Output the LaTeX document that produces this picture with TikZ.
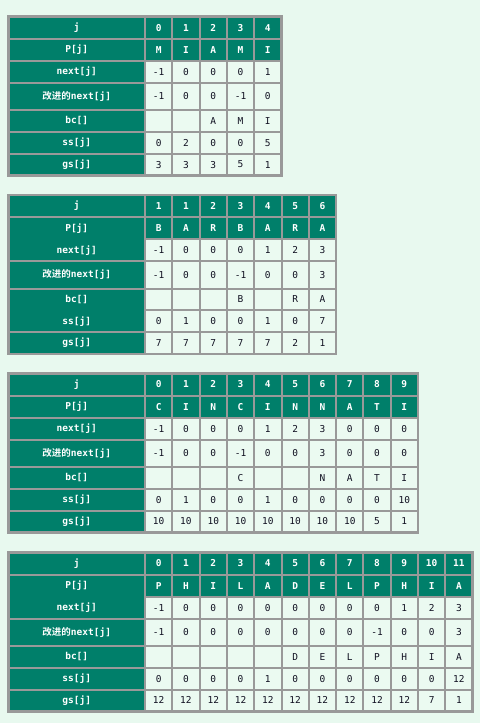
\documentclass[tikz,border=0pt]{standalone}
\usepackage{fontspec}
\setmonofont{DejaVu Sans Mono}
\newfontfamily\cjk{Noto Sans CJK SC}[BoldFont={* Bold}]
\definecolor{bg}{HTML}{E8F9EF}
\definecolor{hdr}{HTML}{007F6A}
\definecolor{cellbg}{HTML}{EBFAF1}
\definecolor{gridc}{HTML}{999999}
\definecolor{txt}{HTML}{111122}
\tikzset{
  hd/.style={text=white,font=\ttfamily\bfseries\fontsize{9.5}{10}\selectfont,inner sep=0pt},
  dt/.style={text=txt,font=\ttfamily\fontsize{9.5}{10}\selectfont,inner sep=0pt},
  gridline/.style={draw=gridc,line width=2pt},
  outline/.style={draw=gridc,line width=2.4pt},
}
% #1 top, #2 number of columns
\newcommand\tablefill[2]{%
  \fill[cellbg] (8.5,#1) rectangle ({145+#2*27.3},#1+159);
  \fill[hdr] (8.5,#1) rectangle (145,#1+159);
  \fill[hdr] (145,#1) rectangle ({145+#2*27.3},#1+44.4);
}
% #1 top, #2 number of columns, #3 boundaries drawn across the first column
\newcommand\tablegrid[3]{%
  \foreach \b in {22.2,44.4,66.2,93.6,115.4,137.2}
    \draw[gridline] (145,#1+\b) -- ({145+#2*27.3},#1+\b);
  \foreach \b in {#3}
    \draw[gridline] (8.5,#1+\b) -- (145,#1+\b);
  \foreach \k in {0,...,\numexpr#2-1\relax}
    \draw[gridline] ({145+\k*27.3},#1) -- ({145+\k*27.3},#1+159);
  \draw[outline] (8.5,#1) rectangle ({145+#2*27.3},#1+159);
}
% #1 prefix, #2 row index, #3 y centre, #4 style, #5 values
\newcommand\rowtxt[5]{%
  \foreach \v [count=\c from 1] in {#5}
    \node[#4] (#1r#2c\c) at ({145+(\c-0.5)*27.3},#3) {\v};
}
% #1 prefix, #2 top
\newcommand\labels[2]{%
  \node[hd] (#1r0c0) at (76.75,#2+11.1) {j};
  \node[hd] (#1r1c0) at (76.75,#2+33.3) {P[j]};
  \node[hd] (#1r2c0) at (76.75,#2+55.3) {next[j]};
  \node[hd] (#1r3c0) at (76.75,#2+79.9) {{\cjk\bfseries 改进的}next[j]};
  \node[hd] (#1r4c0) at (76.75,#2+104.5) {bc[]};
  \node[hd] (#1r5c0) at (76.75,#2+126.3) {ss[j]};
  \node[hd] (#1r6c0) at (76.75,#2+148.1) {gs[j]};
}
\begin{document}
\begin{tikzpicture}[x=1pt,y=-1pt]
\fill[bg] (0,0) rectangle (480,723);
\useasboundingbox (0,0) rectangle (480,723);

% ---------- table 1: MIAMI ----------
\def\T{16.5}
\tablefill{\T}{5}
\tablegrid{\T}{5}{22.2,44.4,66.2,93.6,115.4,137.2}
\labels{a}{\T}
\rowtxt{a}{0}{\T+11.1}{hd}{0,1,2,3,4}
\rowtxt{a}{1}{\T+33.3}{hd}{M,I,A,M,I}
\rowtxt{a}{2}{\T+55.3}{dt}{-1,0,0,0,1}
\rowtxt{a}{3}{\T+79.9}{dt}{-1,0,0,-1,0}
\rowtxt{a}{4}{\T+104.5}{dt}{{},{},A,M,I}
\rowtxt{a}{5}{\T+126.3}{dt}{0,2,0,0,5}
\rowtxt{a}{6}{\T+148.1}{dt}{3,3,3,5,1}

% ---------- table 2: BARBARA ----------
\def\T{195}
\tablefill{\T}{7}
\tablegrid{\T}{7}{22.2,66.2,93.6,137.2}
\labels{b}{\T}
\rowtxt{b}{0}{\T+11.1}{hd}{1,1,2,3,4,5,6}
\rowtxt{b}{1}{\T+33.3}{hd}{B,A,R,B,A,R,A}
\rowtxt{b}{2}{\T+55.3}{dt}{-1,0,0,0,1,2,3}
\rowtxt{b}{3}{\T+79.9}{dt}{-1,0,0,-1,0,0,3}
\rowtxt{b}{4}{\T+104.5}{dt}{{},{},{},B,{},R,A}
\rowtxt{b}{5}{\T+126.3}{dt}{0,1,0,0,1,0,7}
\rowtxt{b}{6}{\T+148.1}{dt}{7,7,7,7,7,2,1}

% ---------- table 3: CINCINNATI ----------
\def\T{373.3}
\tablefill{\T}{10}
\tablegrid{\T}{10}{22.2,44.4,66.2,93.6,115.4,137.2}
\labels{c}{\T}
\rowtxt{c}{0}{\T+11.1}{hd}{0,1,2,3,4,5,6,7,8,9}
\rowtxt{c}{1}{\T+33.3}{hd}{C,I,N,C,I,N,N,A,T,I}
\rowtxt{c}{2}{\T+55.3}{dt}{-1,0,0,0,1,2,3,0,0,0}
\rowtxt{c}{3}{\T+79.9}{dt}{-1,0,0,-1,0,0,3,0,0,0}
\rowtxt{c}{4}{\T+104.5}{dt}{{},{},{},C,{},{},N,A,T,I}
\rowtxt{c}{5}{\T+126.3}{dt}{0,1,0,0,1,0,0,0,0,10}
\rowtxt{c}{6}{\T+148.1}{dt}{10,10,10,10,10,10,10,10,5,1}

% ---------- table 4: PHILADELPHIA ----------
\def\T{552.3}
\tablefill{\T}{12}
\tablegrid{\T}{12}{22.2,66.2,93.6,115.4,137.2}
\labels{d}{\T}
\rowtxt{d}{0}{\T+11.1}{hd}{0,1,2,3,4,5,6,7,8,9,10,11}
\rowtxt{d}{1}{\T+33.3}{hd}{P,H,I,L,A,D,E,L,P,H,I,A}
\rowtxt{d}{2}{\T+55.3}{dt}{-1,0,0,0,0,0,0,0,0,1,2,3}
\rowtxt{d}{3}{\T+79.9}{dt}{-1,0,0,0,0,0,0,0,-1,0,0,3}
\rowtxt{d}{4}{\T+104.5}{dt}{{},{},{},{},{},D,E,L,P,H,I,A}
\rowtxt{d}{5}{\T+126.3}{dt}{0,0,0,0,1,0,0,0,0,0,0,12}
\rowtxt{d}{6}{\T+148.1}{dt}{12,12,12,12,12,12,12,12,12,12,7,1}
\end{tikzpicture}
\end{document}
